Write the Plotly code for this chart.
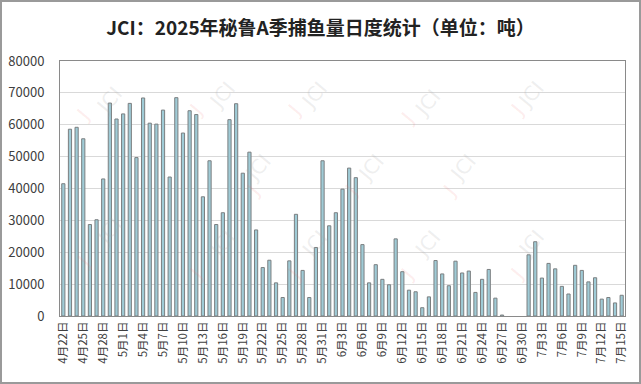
import plotly.graph_objects as go
import pandas as pd

# daily catch (tonnes), 2025-04-22 .. 2025-07-15
dates = pd.date_range("2025-04-22", "2025-07-15", freq="D")
categories = [f"{d.month}月{d.day}日" for d in dates]

values_apr = [41500, 58600, 59200, 55600, 28700, 30200, 43000, 66800, 61800]
values_may = [63400, 66700, 49700, 68400, 60500, 60200, 64600, 43600, 68500, 57400,
              64400, 63200, 37400, 48700, 28700, 32400, 61600, 66600, 44800, 51400,
              27000, 15200, 17500, 10400, 5800, 17300, 31900, 14300, 5800, 21500,
              48700]
values_jun = [28300, 32400, 39800, 46400, 43400, 22400, 10400, 16100, 11500, 9800,
              24200, 13900, 8100, 7600, 2600, 6000, 17400, 13200, 9500, 17200,
              13500, 14100, 7400, 11500, 14600, 5600, 300, 0, 0, 0]
values_jul = [19200, 23300, 11900, 16500, 14800, 9300, 6900, 15900, 14300, 10700,
              12000, 5300, 5800, 4100, 6500]
values = values_apr + values_may + values_jun + values_jul

tick_labels = categories[::3]

fig = go.Figure()
fig.add_trace(go.Bar(
    x=categories, y=values,
    marker=dict(color="#9fcbd6",
                line=dict(color="#7b7f80", width=[0 if v == 0 else 1 for v in values])),
    width=0.48,
))

font_cjk = "Noto Sans CJK SC"

# faint JCI watermarks
wm = [(0.05, 0.93), (0.25, 0.95), (0.45, 0.95), (0.65, 0.92), (0.87, 0.95),
      (0.35, 0.58), (0.55, 0.58), (0.75, 0.58),
      (0.05, 0.25), (0.25, 0.2), (0.45, 0.2), (0.65, 0.2), (0.87, 0.2)]
annotations = []
for (ax_, ay_) in wm:
    annotations.append(dict(x=ax_, y=ay_, xref="paper", yref="paper", text="JCI",
                            showarrow=False, textangle=-50,
                            font=dict(family="DejaVu Sans", size=20, color="rgba(170,170,170,0.2)")))
    annotations.append(dict(x=ax_ - 0.035, y=ay_ - 0.09, xref="paper", yref="paper", text="J",
                            showarrow=False, textangle=-50,
                            font=dict(family="DejaVu Sans", size=20, color="rgba(240,120,120,0.14)")))

fig.update_layout(
    width=641, height=384,
    margin=dict(l=60, r=16, t=61, b=68),
    paper_bgcolor="white", plot_bgcolor="white",
    title=dict(text="<b>JCI：2025年秘鲁A季捕鱼量日度统计（单位：吨）</b>",
               x=0.5, xanchor="center", y=0.925, yanchor="middle",
               font=dict(family=font_cjk, size=19, color="#222222")),
    showlegend=False,
    annotations=annotations,
)
fig.update_xaxes(
    type="category", categoryorder="array", categoryarray=categories,
    tickmode="array", tickvals=tick_labels, ticktext=tick_labels,
    tickangle=-90, tickfont=dict(family=font_cjk, size=11.5, color="#404040"),
    showline=True, linecolor="#8a8a8a", linewidth=1, mirror=True,
    showgrid=False, ticks="", automargin=False,
)
fig.update_yaxes(
    range=[0, 80000], dtick=10000, tickformat="d",
    tickfont=dict(family=font_cjk, size=13, color="#404040"),
    showgrid=True, gridcolor="#d9d9d9", gridwidth=1,
    showline=True, linecolor="#8a8a8a", linewidth=1, mirror=True,
    zeroline=False, ticks="", ticklabelstandoff=12, automargin=False,
)

post = ("document.body.style.margin='0';"
        "var b=document.createElement('div');"
        "b.style.cssText='position:fixed;left:0;top:0;width:641px;height:384px;"
        "box-sizing:border-box;border:2px solid #9a9a9a;pointer-events:none;z-index:10';"
        "document.body.appendChild(b);")
fig.write_html("out.html", post_script=post, config={"displayModeBar": False})
